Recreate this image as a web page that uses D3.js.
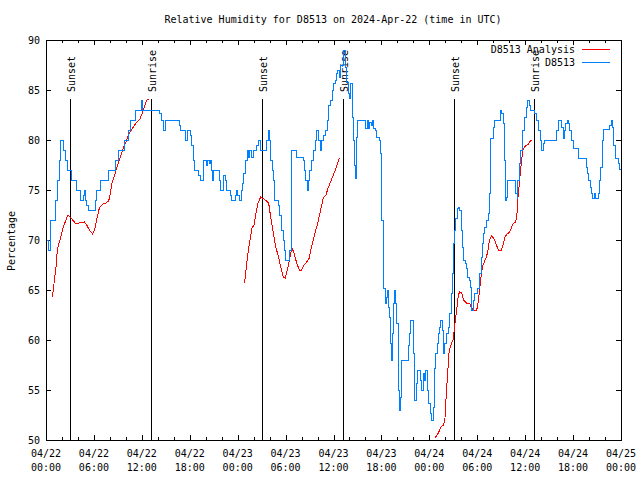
<!DOCTYPE html>
<html><head><meta charset="utf-8">
<script src="https://cdn.jsdelivr.net/npm/d3@7"></script>
<style>
html,body{margin:0;padding:0;background:#fff;}
text{font-family:"DejaVu Sans Mono","Liberation Mono",monospace;font-size:10px;fill:#000;}
</style></head>
<body>
<svg id="chart" width="640" height="480"></svg>
<script>
// ---- DATA (hours since 2024-04-22 00:00 UTC, relative humidity %) ----
const titleText = "Relative Humidity for D8513 on 2024-Apr-22 (time in UTC)";
const yLabelText = "Percentage";
const yTicks = [50, 55, 60, 65, 70, 75, 80, 85, 90];
const xTickHours = [0, 6, 12, 18, 24, 30, 36, 42, 48, 54, 60, 66, 72];
const xTickDates = ["04/22","04/22","04/22","04/22","04/23","04/23","04/23","04/23","04/24","04/24","04/24","04/24","04/25"];
const xTickTimes = ["00:00","06:00","12:00","18:00","00:00","06:00","12:00","18:00","00:00","06:00","12:00","18:00","00:00"];
const seriesNames = ["D8513 Analysis", "D8513"];
const sunEvents = [
  {h: 3.04, label: "Sunset"}, {h: 13.15, label: "Sunrise"},
  {h: 27.09, label: "Sunset"}, {h: 37.23, label: "Sunrise"},
  {h: 51.13, label: "Sunset"}, {h: 61.15, label: "Sunrise"}
];
// observed station series (step-like)
const obsHours = [0,0.33,0.58,1.25,1.5,1.67,1.84,2.25,2.42,2.67,3.17,3.84,4.34,4.67,4.84,4.92,5.09,5.26,6.18,6.34,6.84,7.85,8.68,9.1,9.77,10.27,10.6,11.19,11.94,12.1,14.27,14.52,14.69,14.94,16.7,16.86,17.45,17.7,18.11,18.28,18.45,18.61,
  19.12,19.37,19.7,19.78,20.12,20.28,20.45,20.62,20.78,20.87,21.03,21.7,21.79,22.2,22.45,22.62,23.04,23.29,23.71,23.87,24.04,24.29,24.46,24.62,24.79,24.96,25.21,25.38,25.54,25.79,25.96,26.38,26.63,26.8,27.55,27.8,27.96,28.13,28.3,28.46,28.63,29.13,29.3,29.55,29.72,29.88,30.05,30.5,30.8,31.22,31.39,32.22,32.39,32.55,32.72,32.89,33.05,33.22,33.47,33.72,33.89,34.14,34.31,34.47,34.81,34.97,35.22,35.4,35.64,35.89,36.06,36.23,36.4,36.56,
  36.69,36.86,37.19,37.52,37.69,37.86,38.03,38.19,38.36,38.53,38.69,38.78,38.86,38.95,40.03,40.2,40.36,40.53,40.7,40.86,41.03,41.2,41.37,41.78,41.87,41.95,42.03,42.2,42.28,42.45,42.62,42.78,42.87,43.03,43.12,43.2,43.37,43.54,43.7,43.79,43.95,44.12,44.29,44.37,44.54,45.37,45.54,45.7,46.04,46.2,46.37,46.54,46.87,47.04,47.21,47.37,47.54,47.71,47.88,48.13,48.29,48.46,48.63,48.8,48.96,49.13,49.29,49.46,49.63,49.8,49.96,50.13,50.38,50.55,50.8,50.96,51.05,51.13,51.3,51.47,51.63,51.8,51.97,52.13,52.3,52.47,52.63,52.8,52.97,53.13,53.3,53.47,53.64,53.97,54.3,54.47,54.64,54.8,54.97,
  55.22,55.39,55.56,55.72,56.05,56.22,56.89,57.06,57.23,57.39,57.56,57.64,57.81,58.81,58.98,59.06,59.23,59.4,59.65,59.9,60.15,60.31,60.56,60.73,61.23,61.48,61.73,61.9,62.07,62.32,62.48,63.9,64.15,64.57,64.74,64.9,65.07,65.24,65.4,65.57,65.82,65.99,66.66,67.66,67.83,67.99,68.16,68.32,68.49,68.66,68.83,69.16,69.33,69.49,69.66,69.83,70.58,70.75,70.91,71.08,71.25,71.66,71.83,72];
const obsValues = [70,69,72,74,76,78,80,79,78,77,76,75,74,74.5,75,74,73.5,73,74,75,76,77,78,79,80,81,82,83,84,83,82.7,82,81,82,81.5,81,80,81,80.5,79.5,78,77,
  76.5,76,77,78,77.5,78,77.7,78,77,76,77,76,75,76.5,76,75,74.5,74,74.5,75,74.5,74,75,75.7,76.7,78,79,78.3,79,78.3,79,79.5,80,79,80,81,80,78,77,76,74,73.5,72.5,71,70,69,68,69,79,79,78.3,78,77,76,75,76,77,78,79,80,81,80,79,80,80.5,81,82,83.5,84,85,85.7,86,86.7,87,
  86.3,87.5,89,87.3,85.8,84.7,84.2,85.7,82.3,80,77.5,76.2,80.3,82,81.2,82,81.2,81.8,81.5,82,81.2,81,80.3,80,78.7,75.7,72,68,65.2,63.7,64.3,65,63.3,62.3,59.7,58,60.7,63.7,65,63.7,61.7,55,53,54.3,58,59.5,60.7,62,58.7,54,55.7,57,56,55,56.7,56,57,55,53.7,52.7,52,53.3,57.2,58.7,59.7,60.7,61.3,62,61,58.7,59.7,60.7,61.3,62.7,64.7,66.7,69.7,71,72.2,73.2,73.3,73,71,69.3,68,67.7,67.2,66.3,66,65.3,63,64,64.7,65.2,66.7,68.3,69.7,70.7,71.3,
  72,72.7,74.7,80.2,81.3,82,83,82.7,81.7,78,74,74.3,76,74.7,74.2,76,77.7,79,81,82.3,83.3,84,83.5,83,82.7,82,81,80,79,79.7,80,81,82,81.3,80.2,81,81.7,82,81.7,81,80,79.2,78.2,77.3,76.7,76,75.3,74.7,74.2,74.7,74.2,74.7,76,77.3,80,81.1,81.5,82,81.3,79.5,78.2,77.7,77.1,77];
// analysis series (null = gap)
const anaHours = [0.75,0.92,1.09,1.25,1.42,1.67,1.92,2.17,2.5,2.75,3.0,3.34,3.76,4.17,4.8,5.1,5.43,5.84,6.09,6.34,6.68,7.1,7.51,7.85,8.01,8.26,8.6,8.85,9.27,9.68,10.02,10.43,10.85,11.27,11.77,12.1,12.35,12.6,12.94,
  18,
  24.87,25.04,25.29,25.54,25.79,26.04,26.29,26.54,26.88,27.3,27.88,28.13,28.46,28.8,29.13,29.38,29.72,29.97,30.22,30.55,30.8,31.05,31.39,31.72,31.97,32.3,32.64,32.97,33.22,33.47,33.72,34.06,34.39,34.72,35.06,35.31,35.64,35.98,36.23,36.48,36.73,36.78,
  42,
  48.71,49.13,49.46,49.8,49.96,50.13,50.3,50.46,50.63,50.8,50.96,51.13,51.3,51.47,51.63,51.8,52.05,52.3,52.63,53.05,53.22,53.47,53.88,54.05,54.14,54.3,54.47,54.64,54.89,55.14,55.31,55.47,55.64,55.81,56.05,56.31,56.64,56.98,57.23,57.48,57.73,58.06,58.31,58.56,58.81,58.98,59.06,59.23,59.4,59.56,59.73,59.9,60.23,60.4,60.65,60.9];
const anaValues = [64.3,65,66.3,67.3,69,69.8,70.5,71.3,72,72.5,72.3,72,71.6,71.7,71.8,71.5,71,70.6,71,72,73.2,73.6,73.7,73.9,74.5,75.7,76.5,77.2,78.2,79.2,79.8,80.7,81.2,81.7,82.1,82.8,83.4,84,84.07,
  null,
  65.7,67,68.7,70,71.2,71.5,72.7,73.7,74.3,74.1,73.7,72.3,70.7,69.2,68.3,67.3,66.3,66.2,67,68.3,69.2,68.7,67.7,67,67,67.5,67.8,68.2,69.2,70,70.8,71.8,73,74.2,74.5,75.2,75.8,76.5,77,77.6,78.2,78.2,
  null,
  50.2,50.7,51.3,51.5,52.2,54.7,56.7,58.7,59.3,59.7,60,61,62.3,63.3,64.5,64.8,64.7,64,63.7,63.7,63.3,63,63,63.3,64,65,66.3,67.3,67.8,68.3,68.8,69.7,70.2,70.4,70.2,69.7,69,68.9,69.5,70.3,70.6,70.8,71.3,71.7,71.8,72.7,74,75.3,76.8,78,79,79.3,79.5,79.6,79.9,80];

// ---- DRAWING ----
const svg = d3.select("#chart");
const L = 46, R = 621, T = 40, B = 440;
const x = d3.scaleLinear().domain([0, 72]).range([L, R]);
const y = d3.scaleLinear().domain([50, 90]).range([B, T]);
const blue = "#0080ff", red = "#ff0000";

svg.append("rect").attr("width", 640).attr("height", 480).attr("fill", "#fff");

// title
svg.append("text").attr("x", 333).attr("y", 23).attr("text-anchor", "middle").text(titleText);
// y label
svg.append("text").attr("transform", "translate(15,241) rotate(-90)")
  .attr("text-anchor", "middle").text(yLabelText);

const minorHours = d3.range(0, 73, 2);

// axes with inward ticks
const gB = svg.append("g").attr("transform", `translate(0,${B})`)
  .call(d3.axisBottom(x).tickValues(minorHours).tickSize(-3).tickSizeOuter(0).tickFormat(""));
const gT = svg.append("g").attr("transform", `translate(0,${T})`)
  .call(d3.axisTop(x).tickValues(minorHours).tickSize(-3).tickSizeOuter(0).tickFormat(""));
const gB2 = svg.append("g").attr("transform", `translate(0,${B})`)
  .call(d3.axisBottom(x).tickValues(xTickHours).tickSize(-5).tickSizeOuter(0).tickFormat(""));
const gT2 = svg.append("g").attr("transform", `translate(0,${T})`)
  .call(d3.axisTop(x).tickValues(xTickHours).tickSize(-5).tickSizeOuter(0).tickFormat(""));
const gL = svg.append("g").attr("transform", `translate(${L},0)`)
  .call(d3.axisLeft(y).tickValues(yTicks).tickSize(-5).tickSizeOuter(0).tickPadding(6).tickFormat(d3.format("d")));
const gR = svg.append("g").attr("transform", `translate(${R},0)`)
  .call(d3.axisRight(y).tickValues(yTicks).tickSize(-5).tickSizeOuter(0).tickFormat(""));
[gB, gT, gB2, gT2, gL, gR].forEach(g => {
  g.select(".domain").remove();
  g.selectAll("line").attr("stroke", "#000").attr("shape-rendering", "crispEdges");
  g.selectAll("text").attr("font-family", null).attr("font-size", null).attr("fill", "#000");
});
gL.selectAll("text").attr("x", -6).attr("dy", "0.35em");

// x tick labels (two lines)
const xl = svg.append("g");
xTickHours.forEach((h, i) => {
  xl.append("text").attr("x", x(h)).attr("y", 457).attr("text-anchor", "middle").text(xTickDates[i]);
  xl.append("text").attr("x", x(h)).attr("y", 471).attr("text-anchor", "middle").text(xTickTimes[i]);
});

// sunrise / sunset markers
const se = svg.append("g");
sunEvents.forEach(e => {
  se.append("line").attr("x1", x(e.h)).attr("x2", x(e.h)).attr("y1", 99).attr("y2", B)
    .attr("stroke", "#000").attr("shape-rendering", "crispEdges");
  se.append("text").attr("transform", `translate(${x(e.h) + 1},92) rotate(-90)`)
    .attr("dominant-baseline", "central").text(e.label);
});

// clip
svg.append("clipPath").attr("id", "clip").append("rect")
  .attr("x", L).attr("y", T).attr("width", R - L).attr("height", B - T);

const anaData = anaHours.map((h, i) => ({h, v: anaValues[i]}));
const obsData = obsHours.map((h, i) => ({h, v: obsValues[i]}));

const lineAna = d3.line().defined(d => d.v !== null).x(d => x(d.h)).y(d => y(d.v));
const lineObs = d3.line().x(d => x(d.h)).y(d => y(d.v)).curve(d3.curveStepAfter);

const plot = svg.append("g").attr("clip-path", "url(#clip)");
plot.append("path").datum(anaData).attr("d", lineAna).attr("fill", "none")
  .attr("stroke", red).attr("stroke-width", 1).attr("shape-rendering", "crispEdges");
plot.append("path").datum(obsData).attr("d", lineObs).attr("fill", "none")
  .attr("stroke", blue).attr("stroke-width", 1).attr("shape-rendering", "crispEdges");

// frame
svg.append("rect").attr("x", L).attr("y", T).attr("width", R - L).attr("height", B - T)
  .attr("fill", "none").attr("stroke", "#000").attr("shape-rendering", "crispEdges");

// legend
const leg = svg.append("g");
[red, blue].forEach((c, i) => {
  const yy = 49 + i * 13;
  leg.append("text").attr("x", 575).attr("y", yy).attr("text-anchor", "end")
    .attr("dominant-baseline", "central").text(seriesNames[i]);
  leg.append("line").attr("x1", 582).attr("x2", 610).attr("y1", yy).attr("y2", yy)
    .attr("stroke", c).attr("shape-rendering", "crispEdges");
});
</script>
</body></html>
